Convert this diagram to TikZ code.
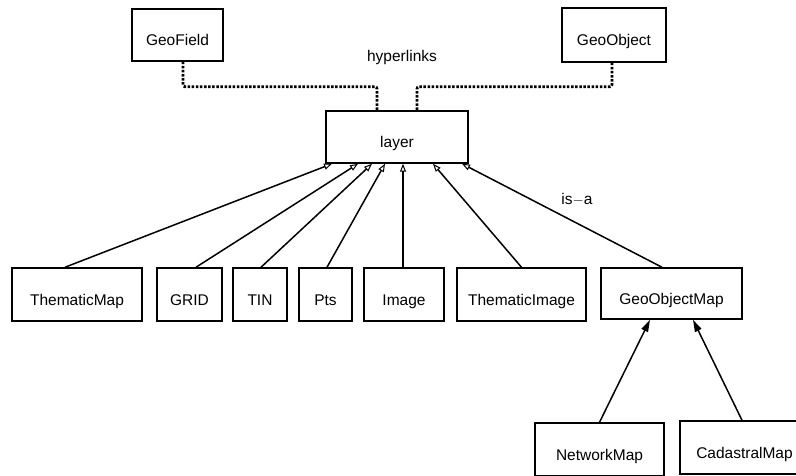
\documentclass[tikz,border=0pt]{standalone}
\usepackage{fontspec}
\setmainfont{Liberation Sans}
\usetikzlibrary{arrows.meta,positioning}

\begin{document}
\begin{tikzpicture}[
  x=1pt, y=-1pt,
  font=\fontsize{15.5}{18}\selectfont,
  cls/.style={draw, line width=1.5pt, inner sep=0pt, text height=22pt, text depth=0pt, minimum height=53pt},
  link/.style={line width=2.8pt, dash pattern=on 2.5pt off 1.6pt, rounded corners=2pt},
  isa/.style={-{Triangle[open, length=8pt, width=6pt, line width=1pt]}, line width=1.5pt},
  part/.style={-{Triangle[length=12pt, width=7pt]}, line width=1.5pt},
]
\useasboundingbox (0,0) rectangle (796,476);

% top row
\node[cls, minimum width=91pt, minimum height=52pt] (gf) at (177.5,35) {GeoField};
\node[cls, minimum width=104pt, minimum height=54pt] (go) at (614,35) {GeoObject};
\node[cls, minimum width=142pt, minimum height=52pt] (layer) at (397,137) {layer};
\node (hl) at (402,57) {hyperlinks};

\draw[link] ([xshift=5.5pt]gf.south) -- ++(0,25) -| ([xshift=-20pt]layer.north);
\draw[link] ([xshift=-2pt]go.south) -- ++(0,24) -| ([xshift=20pt]layer.north);

% layer kinds
\node[cls, minimum width=130pt] (tmap) at (77,294.5) {ThematicMap};
\node[cls, minimum width=65pt] (grid) at (189.5,294.5) {GRID};
\node[cls, minimum width=54pt] (tin) at (260,294.5) {TIN};
\node[cls, minimum width=53pt] (pts) at (325.5,294.5) {Pts};
\node[cls, minimum width=80pt] (img) at (404,294.5) {Image};
\node[cls, minimum width=129pt] (timg) at (521.5,294.5) {ThematicImage};
\node[cls, minimum width=141pt, minimum height=51pt] (gomap) at (671.5,293.5) {GeoObjectMap};
\node (isalbl) at (577,199) {is$-$a};

\draw[isa] ([xshift=-12pt]tmap.north) -- ([xshift=-65pt]layer.south);
\draw[isa] ([xshift=6.5pt]grid.north) -- ([xshift=-39pt]layer.south);
\draw[isa] ([xshift=1pt]tin.north) -- ([xshift=-25pt]layer.south);
\draw[isa] ([xshift=1.5pt]pts.north) -- ([xshift=-12pt]layer.south);
\draw[isa] ([xshift=-1pt]img.north) -- ([xshift=6pt]layer.south);
\draw[isa] (timg.north) -- ([xshift=36pt]layer.south);
\draw[isa] ([xshift=-9.5pt]gomap.north) -- ([xshift=65pt]layer.south);

% parts of GeoObjectMap
\node[cls, minimum width=129pt] (nmap) at (599.5,449.5) {NetworkMap};
\node[cls, minimum width=129pt] (cmap) at (744.5,447.5) {CadastralMap};

\draw[part] (nmap.north) -- ([xshift=-21.5pt]gomap.south);
\draw[part] ([xshift=-2.5pt]cmap.north) -- ([xshift=21.5pt]gomap.south);
\end{tikzpicture}
\end{document}
